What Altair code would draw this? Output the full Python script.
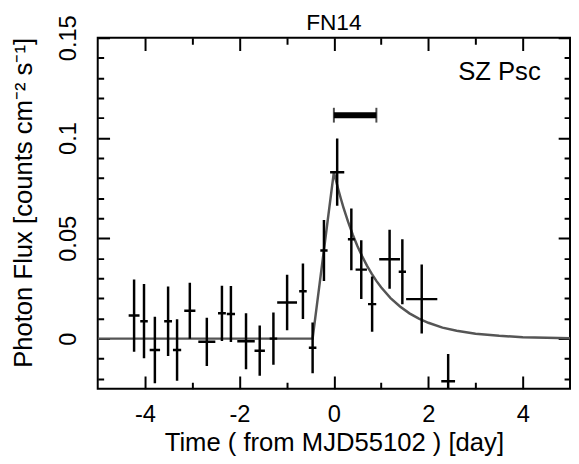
import altair as alt
import pandas as pd

# ---- data ----
t = [-4.23, -4.02, -3.79, -3.51, -3.32, -3.05, -2.69, -2.37, -2.18, -1.86, -1.57, -1.28,
     -0.99, -0.655, -0.45, -0.21, 0.07, 0.37, 0.58, 0.81, 1.18, 1.45, 1.86, 2.42]
t_err = [0.115, 0.08, 0.11, 0.083, 0.087, 0.118, 0.18, 0.083, 0.087, 0.185, 0.11, 0.08,
         0.21, 0.08, 0.08, 0.077, 0.15, 0.073, 0.12, 0.087, 0.22, 0.077, 0.33, 0.146]
flux = [0.0115, 0.0087, -0.0057, 0.0087, -0.0057, 0.0139, -0.0016, 0.0126, 0.0123, -0.0013,
        -0.006, 0.0, 0.018, 0.0236, -0.0046, 0.0439, 0.083, 0.0495, 0.0344, 0.0172, 0.0396,
        0.0333, 0.0197, -0.0213]
flux_err = [0.018, 0.0185, 0.0166, 0.0173, 0.0153, 0.014, 0.012, 0.0138, 0.014, 0.014, 0.0125,
            0.013, 0.0138, 0.0138, 0.0127, 0.0152, 0.0168, 0.0154, 0.0147, 0.0138, 0.0147,
            0.0162, 0.0172, 0.0136]

fit_t = [-5.0, -0.45, 0.0, 0.05, 0.1, 0.15, 0.2, 0.25, 0.3, 0.4, 0.5, 0.6, 0.7, 0.8, 0.9, 1.0,
         1.2, 1.4, 1.6, 1.8, 2.0, 2.3, 2.6, 3.0, 3.5, 4.0, 4.5, 5.0]
fit_flux = [0.0, 0.0, 0.083, 0.0783, 0.0738, 0.0696, 0.0656, 0.0619, 0.0583, 0.0518, 0.0461,
            0.0410, 0.0364, 0.0324, 0.0288, 0.0256, 0.0202, 0.0160, 0.0126, 0.0100, 0.0079,
            0.0055, 0.0039, 0.0024, 0.0014, 0.0007, 0.0004, 0.0002]

bar_start = [0.0]
bar_end = [0.9]
bar_flux = [0.1114]

note_text = ["SZ Psc", "FN14"]
note_t = [4.38, 0.0]
note_flux = [0.1287, 0.1539]

x_lo, x_hi = -5.0, 5.0
y_lo, y_hi = -0.025, 0.15
x_major = [-4, -2, 0, 2, 4]
x_minor = [-3, -1, 1, 3]
y_major = [0, 0.05, 0.1, 0.15]
y_minor = [-0.02, -0.01, 0.01, 0.02, 0.03, 0.04, 0.06, 0.07, 0.08, 0.09,
           0.11, 0.12, 0.13, 0.14]

# ---- tables ----
FONT = "Liberation Sans"
W, H = 479, 356

pts = pd.DataFrame({"t": t, "te": t_err, "f": flux, "fe": flux_err})
fit = pd.DataFrame({"t": fit_t, "f": fit_flux})
bar = pd.DataFrame({"t0": bar_start, "t1": bar_end, "f": bar_flux})
caps = pd.DataFrame({"t": bar_start + bar_end, "f": bar_flux * 2})
note_r = pd.DataFrame({"text": note_text[:1], "t": note_t[:1], "f": note_flux[:1]})
note_c = pd.DataFrame({"text": note_text[1:], "t": note_t[1:], "f": note_flux[1:]})

xs = alt.Scale(domain=[x_lo, x_hi], nice=False, zero=False)
ys = alt.Scale(domain=[y_lo, y_hi], nice=False, zero=False)


def edge_dash(length, span):
    # grid line drawn only as a short inward tick at both ends of the frame
    return [length, span - 2 * length, length, 0]


X_MAJOR_TEST = "datum.value % 2 == 0"
Y_MAJOR_TEST = "abs(round(datum.value * 100)) % 5 == 0"

x_main = alt.Axis(orient="bottom", values=sorted(x_major + x_minor), ticks=False,
                  domain=False, grid=True, gridColor="black", gridWidth=2, gridOpacity=1,
                  gridDash={"condition": {"test": X_MAJOR_TEST, "value": edge_dash(13, H)},
                            "value": edge_dash(6.5, H)},
                  labelFont=FONT, labelFontSize=24, labelPadding=14, labelColor="black",
                  labelOverlap=False,
                  labelExpr=X_MAJOR_TEST + " ? '' + datum.value : ''",
                  title="Time ( from MJD55102 ) [day]", titleFont=FONT, titleFontSize=26,
                  titleFontWeight="normal", titleColor="black", titleY=63,
                  titleBaseline="alphabetic")
y_main = alt.Axis(orient="left", values=sorted(y_major + y_minor), ticks=False,
                  domain=False, grid=True, gridColor="black", gridWidth=2, gridOpacity=1,
                  gridDash={"condition": {"test": Y_MAJOR_TEST, "value": edge_dash(12, W)},
                            "value": edge_dash(6, W)},
                  labelFont=FONT, labelFontSize=24, labelColor="black", labelAngle=270,
                  labelAlign="center", labelBaseline="bottom", labelPadding=18,
                  labelOverlap=False,
                  labelExpr=Y_MAJOR_TEST + " ? '' + datum.value : ''",
                  title="Photon Flux [counts cm⁻² s⁻¹]", titleFont=FONT, titleFontSize=26,
                  titleFontWeight="normal", titleColor="black", titleAngle=270,
                  titleX=-67, titleY=167, titleBaseline="alphabetic", titleAlign="center")

fit_line = alt.Chart(fit).mark_line(color="#555555", strokeWidth=2.5, clip=True).encode(
    x=alt.X("t:Q", scale=xs, axis=x_main),
    y=alt.Y("f:Q", scale=ys, axis=y_main),
)

vbars = alt.Chart(pts).transform_calculate(
    lo="datum.f - datum.fe", hi="datum.f + datum.fe"
).mark_rule(color="black", strokeWidth=2.5, clip=True).encode(
    x=alt.X("t:Q", scale=xs, axis=None),
    y=alt.Y("lo:Q", scale=ys, axis=None),
    y2="hi:Q",
)

hbars = alt.Chart(pts).transform_calculate(
    lo="datum.t - datum.te", hi="datum.t + datum.te"
).mark_rule(color="black", strokeWidth=2.5, clip=True).encode(
    x=alt.X("lo:Q", scale=xs, axis=None),
    x2="hi:Q",
    y=alt.Y("f:Q", scale=ys, axis=None),
)

bar_mark = alt.Chart(bar).mark_rule(color="black", strokeWidth=6).encode(
    x=alt.X("t0:Q", scale=xs, axis=None),
    x2="t1:Q",
    y=alt.Y("f:Q", scale=ys, axis=None),
)

cap_mark = alt.Chart(caps).mark_tick(color="black", orient="vertical", size=15,
                                     thickness=2).encode(
    x=alt.X("t:Q", scale=xs, axis=None),
    y=alt.Y("f:Q", scale=ys, axis=None),
)

note_mark = alt.Chart(note_r).mark_text(align="right", baseline="alphabetic", font=FONT,
                                        fontSize=26, color="black").encode(
    x=alt.X("t:Q", scale=xs, axis=None),
    y=alt.Y("f:Q", scale=ys, axis=None),
    text="text:N",
)

title_mark = alt.Chart(note_c).mark_text(align="center", baseline="alphabetic", font=FONT,
                                         fontSize=23, color="black").encode(
    x=alt.X("t:Q", scale=xs, axis=None),
    y=alt.Y("f:Q", scale=ys, axis=None),
    text="text:N",
)

chart = alt.layer(fit_line, vbars, hbars, bar_mark, cap_mark, note_mark,
                  title_mark).resolve_axis(
    x="independent", y="independent"
).properties(
    width=W, height=H,
    autosize=alt.AutoSizeParams(type="none"),
    padding={"left": 91, "top": 27, "right": 1, "bottom": 65},
).configure_view(stroke="black", strokeWidth=2)

chart.save("out.html", embed_options={"renderer": "svg", "actions": False})
